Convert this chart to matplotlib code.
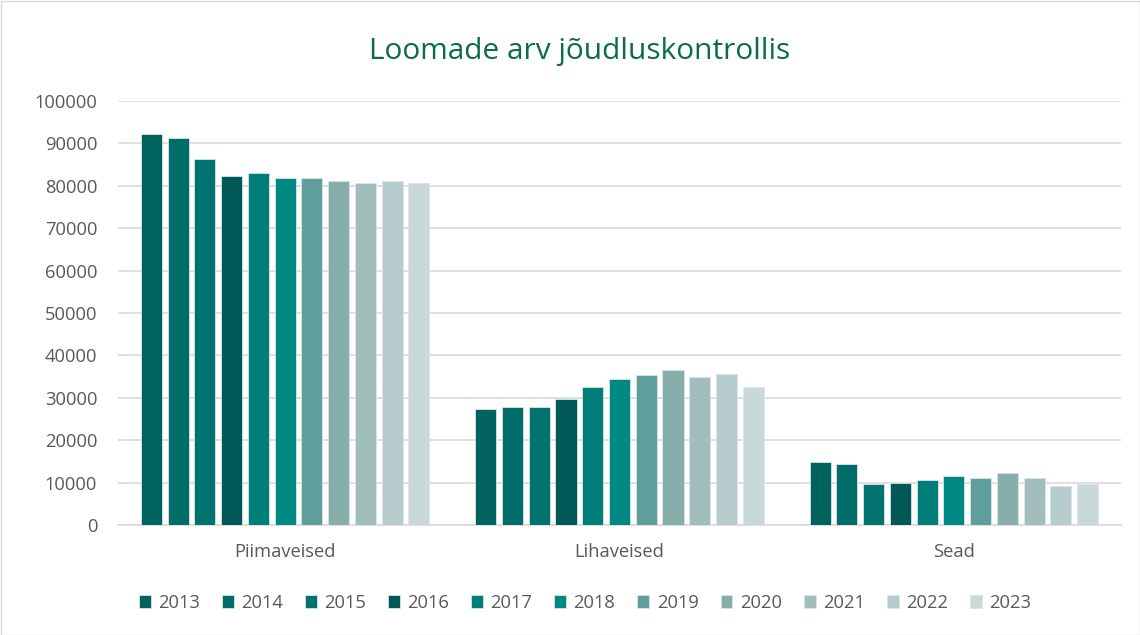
import matplotlib
matplotlib.use("Agg")
import matplotlib.pyplot as plt
import numpy as np
from matplotlib.patches import Rectangle

categories = ["Piimaveised", "Lihaveised", "Sead"]
years = ["2013", "2014", "2015", "2016", "2017", "2018", "2019", "2020", "2021", "2022", "2023"]
piimaveised = [92100, 91250, 86400, 82250, 82950, 81850, 81850, 81050, 80750, 81050, 80750]
lihaveised = [27300, 27800, 27900, 29800, 32450, 34350, 35350, 36500, 34800, 35500, 32600]
sead = [14850, 14500, 9700, 10000, 10650, 11450, 11200, 12200, 11100, 9150, 9700]
colors = ["#00635E", "#006D69", "#00736F", "#005957", "#007E7A", "#008883",
          "#5E9E9B", "#86AFAC", "#A1BEBC", "#B6CBCC", "#C9D9D9"]

plt.rcParams['font.family'] = ['Open Sans', 'DejaVu Sans']

fig = plt.figure(figsize=(11.4, 6.35), dpi=100)
ax = fig.add_axes([118/1140, 1-525/635, (1121-118)/1140, (525-101)/635])

data = np.array([piimaveised, lihaveised, sead])
n = len(years)
slot = 0.08
width = 0.063
x = np.arange(len(categories))
for i, y in enumerate(years):
    offs = (i - (n - 1) / 2) * slot
    ax.bar(x + offs, data[:, i], width=width, color=colors[i], label=y,
           edgecolor="#d8e6e4", linewidth=0.6, zorder=3)

ax.set_xlim(-0.5, 2.5)
ax.set_ylim(0, 100000)
ax.set_yticks(np.arange(0, 100001, 10000))
ax.set_yticklabels([str(v) for v in range(0, 100001, 10000)])
ax.set_xticks(x)
ax.set_xticklabels(categories)
ax.tick_params(axis='both', length=0, labelsize=13.2, labelcolor="#595959")
ax.tick_params(axis='x', pad=13)
ax.tick_params(axis='y', pad=15)
ax.grid(axis='y', color="#D9D9D9", linewidth=1.2, zorder=0)
for s in ["top", "right", "left"]:
    ax.spines[s].set_visible(False)
ax.spines["bottom"].set_color("#D9D9D9")
ax.spines["bottom"].set_linewidth(1.2)

fig.text(580/1140, 1-51/635, "Loomade arv jõudluskontrollis", ha="center", va="center",
         fontsize=21.5, color="#0B6B4D")

leg = fig.legend(loc="center", bbox_to_anchor=(585/1140, 1-603/635), ncol=11,
                 frameon=False, fontsize=13.2, handlelength=0.65, handleheight=0.65,
                 handletextpad=0.4, columnspacing=1.2)
for t in leg.get_texts():
    t.set_color("#595959")

fig.patches.append(Rectangle((0.5/1140, 0.5/635), 1 - 1/1140, 1 - 1/635,
                             transform=fig.transFigure, fill=False,
                             edgecolor="#D9D9D9", linewidth=1))

fig.savefig("out.png", dpi=100)
